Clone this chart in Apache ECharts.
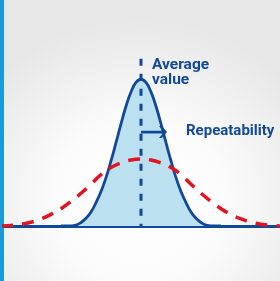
<!DOCTYPE html>
<html>
<head>
<meta charset="utf-8">
<script src="https://cdn.jsdelivr.net/npm/echarts@6/dist/echarts.min.js"></script>
<style>
html, body { margin: 0; padding: 0; }
#main {
    width: 280px; height: 281px;
    background: radial-gradient(ellipse 70% 65% at 50% 72%, #ffffff 0%, #fbfbfb 45%, #e7e7e7 100%);
}
</style>
</head>
<body>
<div id="main"></div>
<script>
// 蓝色曲线 (重复性好) : x 位置 / 高度
var narrowX = [-8, -7.5, -7, -6.5, -6, -5.5, -5, -4.5, -4, -3.5, -3, -2.5, -2, -1.5, -1, -0.5, 0,
    0.5, 1, 1.5, 2, 2.5, 3, 3.5, 4, 4.5, 5, 5.5, 6, 6.5, 7, 7.5, 8];
var narrowY = [0, 0, 0, 0.6, 2.4, 5.3, 9.5, 16.0, 23.5, 33.0, 44.3, 56.8, 69.6, 81.6, 91.3, 97.8, 100,
    97.8, 91.3, 81.6, 69.6, 56.8, 44.3, 33.0, 23.5, 16.0, 9.5, 5.3, 2.4, 0.6, 0, 0, 0];

// 红色虚线 (分布宽)
var wideX = [-14, -13, -12, -11, -10, -9, -8, -7, -6, -5, -4, -3, -2, -1, 0,
    1, 2, 3, 4, 5, 6, 7, 8, 9, 10, 11, 12, 13, 14];
var wideY = [0, 0.4, 1.2, 2.6, 4.8, 7.9, 11.8, 16.8, 22.3, 28.5, 35.0, 39.8, 43.0, 45.0, 45.6,
    45.0, 43.0, 39.8, 35.0, 28.5, 22.3, 16.8, 11.8, 7.9, 4.8, 2.6, 1.2, 0.4, 0];

// 平均值竖线, 重复性箭头
var avgLine = [[0, 114], [0, 0]];
var arrowLine = [[0, 64], [2.2, 64]];

var labelAvg = ['Average', 'value'];
var labelRep = 'Repeatability';

function pairs(xs, ys) {
    var out = [];
    for (var i = 0; i < xs.length; i++) {
        out.push([xs[i], ys[i]]);
    }
    return out;
}

var blue = '#12489a';
var red = '#e3141f';
var font = 'bold 15px Roboto, sans-serif';

var chart = echarts.init(document.getElementById('main'));

var arrowData = [
    { value: arrowLine[0], symbol: 'none' },
    {
        value: arrowLine[1],
        symbol: 'path://M0,0 L4,0 L12,10 L4,20 L0,20 L8,10 Z',
        symbolSize: [8, 12],
        itemStyle: { color: blue }
    }
];

var option = {
    animation: false,
    backgroundColor: 'transparent',
    grid: { left: 4, right: 0, top: 0, bottom: 55 },
    xAxis: {
        type: 'value',
        min: -13.7,
        max: 13.9,
        axisLine: { show: true, lineStyle: { color: blue, width: 3 } },
        axisTick: { show: false },
        axisLabel: { show: false },
        splitLine: { show: false }
    },
    yAxis: {
        type: 'value',
        min: 0,
        max: 154,
        show: false,
        splitLine: { show: false }
    },
    graphic: [
        { type: 'rect', shape: { x: 0, y: 0, width: 4, height: 281 }, style: { fill: '#1a9ad8' } },
        { type: 'text', x: 152, y: 65.5, style: { text: labelAvg[0], font: 'bold 15.5px Roboto, sans-serif', fill: blue, verticalAlign: 'middle' } },
        { type: 'text', x: 152, y: 80.5, style: { text: labelAvg[1], font: 'bold 15.5px Roboto, sans-serif', fill: blue, verticalAlign: 'middle' } },
        { type: 'text', x: 186, y: 131, style: { text: labelRep, font: font, fill: blue, verticalAlign: 'middle' } }
    ],
    series: [
        {
            type: 'line',
            data: pairs(narrowX, narrowY),
            smooth: true,
            showSymbol: false,
            lineStyle: { color: blue, width: 2.8 },
            areaStyle: { color: '#bbe0ef', opacity: 1 },
            z: 2
        },
        {
            type: 'line',
            data: pairs(wideX, wideY),
            smooth: true,
            showSymbol: false,
            lineStyle: { color: red, width: 3.5, type: [12, 9] },
            z: 3
        },
        {
            type: 'line',
            data: avgLine,
            showSymbol: false,
            lineStyle: { color: blue, width: 3, type: [7, 8] },
            z: 4
        },
        {
            type: 'line',
            data: arrowData,
            showSymbol: true,
            lineStyle: { color: blue, width: 2.8 },
            z: 5
        }
    ]
};

chart.setOption(option);
</script>
</body>
</html>
